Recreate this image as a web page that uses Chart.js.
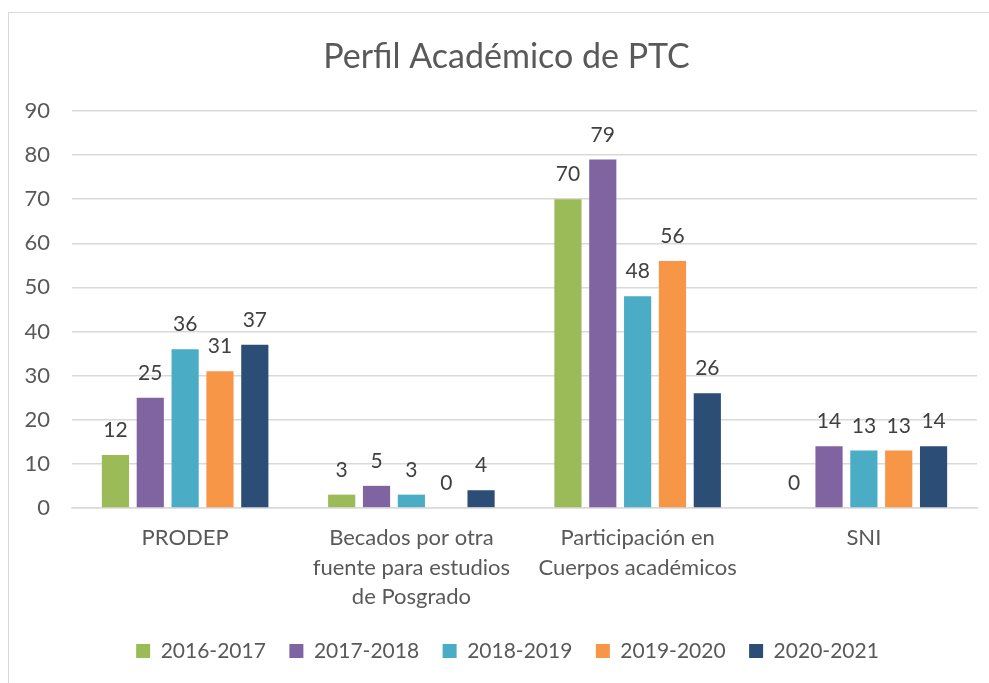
<!DOCTYPE html>
<html>
<head>
<meta charset="utf-8">
<script src="https://cdn.jsdelivr.net/npm/chart.js@4.4.1/dist/chart.umd.min.js"></script>
<style>
  body { margin: 0; background: #fff; }
  #frame { position: absolute; left: 8px; top: 12px; width: 1000px; height: 700px; border: 1.5px solid #d9d9d9; }
  #wrap { position: absolute; left: 0; top: 0; width: 989px; height: 683px; }
</style>
</head>
<body>
<div id="frame"></div>
<div id="wrap"><canvas id="myChart"></canvas></div>
<script>
// categorias y series
var categorias = [
  'PRODEP',
  ['Becados por otra', 'fuente para estudios', 'de Posgrado'],
  ['Participación en', 'Cuerpos académicos'],
  'SNI'
];
var periodos = ['2016-2017', '2017-2018', '2018-2019', '2019-2020', '2020-2021'];
var colores = ['#9BBB59', '#8064A2', '#4BACC6', '#F79646', '#2C4D75'];

var v2016 = [12, 3, 70, 0];
var v2017 = [25, 5, 79, 14];
var v2018 = [36, 3, 48, 13];
var v2019 = [31, 0, 56, 13];
var v2020 = [37, 4, 26, 14];

var valores = [v2016, v2017, v2018, v2019, v2020];
var ticksY = [0, 10, 20, 30, 40, 50, 60, 70, 80, 90];

// etiquetas de valor arriba de cada barra
const etiquetas = {
  id: 'etiquetas',
  afterLayout(chart) {
    // centrar titulo y leyenda como en la grafica original
    chart.titleBlock.left += 8;
    chart.titleBlock.right += 8;
    chart.legend.left += 9;
    chart.legend.right += 9;
  },
  afterDatasetsDraw(chart) {
    const ctx = chart.ctx;
    ctx.save();
    ctx.font = '21px Lato';
    ctx.fillStyle = '#404040';
    ctx.textAlign = 'center';
    ctx.textBaseline = 'alphabetic';
    chart.data.datasets.forEach((ds, i) => {
      chart.getDatasetMeta(i).data.forEach((bar, j) => {
        ctx.fillText(ds.data[j], bar.x, bar.y - 18);
      });
    });
    ctx.restore();
  }
};

const ctx = document.getElementById('myChart');

var myChart = new Chart(ctx, {
  type: 'bar',
  data: {
    labels: categorias,
    datasets: periodos.map((p, i) => ({
      label: p,
      data: valores[i],
      backgroundColor: colores[i],
      borderWidth: 0,
      categoryPercentage: 0.77,
      barPercentage: 0.78
    }))
  },
  options: {
    responsive: true,
    maintainAspectRatio: false,
    animation: false,
    layout: { padding: { left: 20, right: 12, top: 12, bottom: 11.5 } },
    plugins: {
      tooltip: { enabled: false },
      title: {
        display: true,
        text: 'Perfil Académico de PTC',
        color: '#595959',
        font: { family: 'Lato', size: 34, weight: 'normal' },
        padding: { top: 24.6, bottom: 33.6 }
      },
      legend: {
        position: 'bottom',
        labels: {
          color: '#595959',
          font: { family: 'Lato', size: 21 },
          boxWidth: 14,
          boxHeight: 14,
          padding: 23.5
        }
      }
    },
    scales: {
      x: {
        grid: { display: false },
        border: { display: true, color: '#d9d9d9', width: 1.5 },
        afterFit: (axis) => { axis.height -= 2; },
        ticks: {
          color: '#595959',
          font: { family: 'Lato', size: 22, lineHeight: 1.32 },
          padding: 8,
          maxRotation: 0
        }
      },
      y: {
        min: 0,
        max: 90,
        afterBuildTicks: (axis) => { axis.ticks = ticksY.map(v => ({ value: v })); },
        afterFit: (axis) => { axis.width = 52; },
        grid: { color: '#d9d9d9', lineWidth: 1.5, drawTicks: false },
        border: { display: false },
        ticks: {
          color: '#595959',
          font: { family: 'Lato', size: 22 },
          padding: 22
        }
      }
    }
  },
  plugins: [etiquetas]
});
</script>
</body>
</html>
